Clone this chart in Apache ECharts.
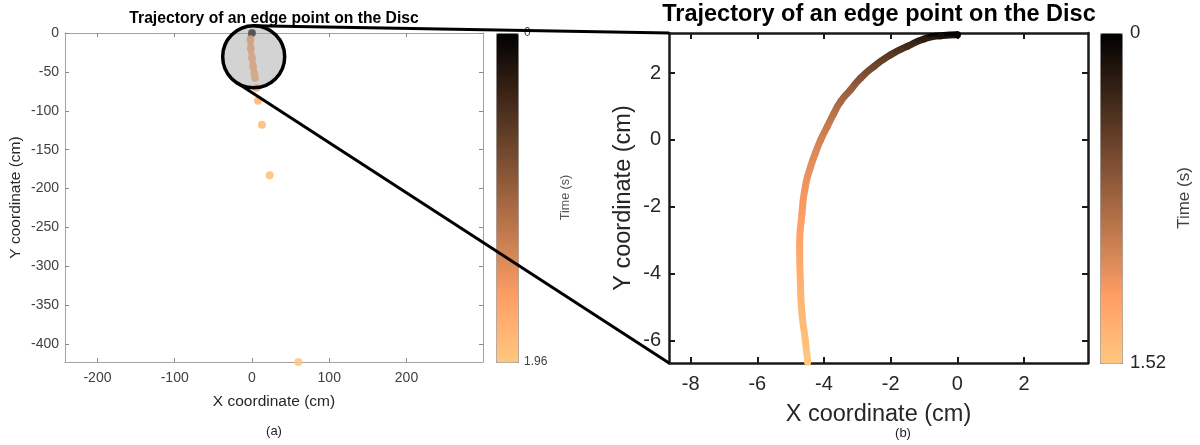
<!DOCTYPE html>
<html>
<head>
<meta charset="utf-8">
<script src="https://cdn.jsdelivr.net/npm/echarts@6/dist/echarts.min.js"></script>
<style>
  html, body { margin: 0; padding: 0; background: #fff; }
  #chart { width: 1200px; height: 445px; }
</style>
</head>
<body>
<div id="chart"></div>
<script>
// (a) full trajectory: slow streak near the top, then the drop
const streakX = [0, -2, -1.5, 0, 1.5, 3, 4];
const streakY = [0, -8, -20, -32, -43, -52, -58];
const streakT = [0, 1.55, 1.6, 1.64, 1.67, 1.7, 1.72];
const dropX = [5.7, 7.8, 12.9, 22.9, 60];
const dropY = [-70.7, -87, -118, -183, -423];
const dropT = [1.74, 1.77, 1.8, 1.86, 1.96];

// (b) zoom on the first 1.52 s
const zoomX = [0, -0.5, -1.0, -1.5, -2.0, -2.5, -2.9, -3.2, -3.5, -3.7, -3.9, -4.1, -4.26, -4.4, -4.56, -4.66, -4.73, -4.71, -4.66, -4.56, -4.49];
const zoomY = [3.15, 3.12, 3.02, 2.8, 2.55, 2.2, 1.85, 1.5, 1.15, 0.8, 0.4, 0, -0.4, -0.8, -1.4, -2.2, -3.2, -4.2, -5.2, -6.0, -6.65];
const zoomT = [0, 0.12, 0.22, 0.33, 0.43, 0.53, 0.63, 0.73, 0.8, 0.88, 0.94, 1.0, 1.05, 1.09, 1.14, 1.2, 1.26, 1.34, 1.41, 1.47, 1.52];

const ticksAX = [-200, -100, 0, 100, 200];
const ticksAY = [0, -50, -100, -150, -200, -250, -300, -350, -400];
const ticksBX = [-8, -6, -4, -2, 0, 2];
const ticksBY = [2, 0, -2, -4, -6];
const rangeAX = [-242, 299], rangeAY = [-423, 0];
const rangeBX = [-8.65, 3.92], rangeBY = [-6.68, 3.2];
const timeMaxA = 1.96, timeMaxB = 1.52;

const FONT = 'Liberation Sans, Arial, sans-serif';

// matlab copper colormap
function copper(tn) {
  tn = Math.max(0, Math.min(1, tn));
  const r = Math.round(255 * Math.min(1, 1.25 * tn));
  const g = Math.round(255 * 0.7812 * tn);
  const b = Math.round(255 * 0.4975 * tn);
  return 'rgb(' + r + ',' + g + ',' + b + ')';
}
const copperStops = [0, 0.2, 0.4, 0.6, 0.8, 1].map(copper);

// colours for evenly spaced y levels (low -> high), looked up from the time read at each point
function yColours(ys, ts, tMax, n) {
  const lo = Math.min(...ys), hi = Math.max(...ys);
  const out = [];
  for (let i = 0; i < n; i++) {
    const y = lo + (hi - lo) * i / (n - 1);
    let t = ts[ts.length - 1];
    if (y >= ys[0]) t = ts[0];
    else {
      for (let k = 0; k < ys.length - 1; k++) {
        if (y <= ys[k] && y >= ys[k + 1]) {
          const f = (ys[k] - y) / (ys[k] - ys[k + 1]);
          t = ts[k] + f * (ts[k + 1] - ts[k]);
          break;
        }
      }
    }
    out.push(copper(t / tMax));
  }
  return out;
}

const pts = (xs, ys, ts) => xs.map((x, i) => ts ? [x, ys[i], ts[i]] : [x, ys[i]]);

const chart = echarts.init(document.getElementById('chart'));

const axA = {
  axisLine: { onZero: false, lineStyle: { color: '#a3a3a3', width: 1 } },
  axisTick: { inside: true, length: 4, lineStyle: { color: '#8a8a8a' } },
  splitLine: { show: false }
};
const axB = {
  axisLine: { onZero: false, lineStyle: { color: '#1a1a1a', width: 2.5 } },
  axisTick: { inside: true, length: 6, lineStyle: { color: '#1a1a1a', width: 2 } },
  splitLine: { show: false }
};
const labA = { color: '#404040', fontSize: 14, fontFamily: FONT };
const labB = { color: '#262626', fontSize: 20, fontFamily: FONT };

function mk(base, extra) {
  return Object.assign({}, base, extra, {
    axisTick: Object.assign({}, base.axisTick, extra.axisTick || {})
  });
}

const option = {
  animation: false,
  textStyle: { fontFamily: FONT },
  title: [
    { text: 'Trajectory of an edge point on the Disc', left: 274, top: 11, padding: 0, textAlign: 'center',
      textStyle: { fontSize: 15.7, fontWeight: 'bold', color: '#000', fontFamily: FONT } },
    { text: 'Trajectory of an edge point on the Disc', left: 879, top: 3, padding: 0, textAlign: 'center',
      textStyle: { fontSize: 23.5, fontWeight: 'bold', color: '#000', fontFamily: FONT } },
    { text: '(a)', left: 274, top: 425, padding: 0, textAlign: 'center',
      textStyle: { fontSize: 13, fontWeight: 'normal', color: '#222', fontFamily: FONT } },
    { text: '(b)', left: 903, top: 427, padding: 0, textAlign: 'center',
      textStyle: { fontSize: 13, fontWeight: 'normal', color: '#222', fontFamily: FONT } }
  ],
  grid: [
    { left: 65, top: 33, width: 418, height: 329 },
    { left: 669, top: 33, width: 419, height: 330 },
    { left: 496, top: 33, width: 22, height: 329 },
    { left: 1100, top: 33, width: 22, height: 330 }
  ],
  xAxis: [
    mk(axA, { gridIndex: 0, type: 'value', position: 'bottom', min: rangeAX[0], max: rangeAX[1],
      axisTick: { customValues: ticksAX },
      axisLabel: Object.assign({ customValues: ticksAX, margin: 9 }, labA),
      name: 'X coordinate (cm)', nameLocation: 'middle', nameGap: 32,
      nameTextStyle: { color: '#262626', fontSize: 15.5, fontFamily: FONT } }),
    mk(axA, { gridIndex: 0, type: 'value', position: 'top', min: rangeAX[0], max: rangeAX[1],
      axisTick: { customValues: ticksAX }, axisLabel: { show: false } }),
    mk(axB, { gridIndex: 1, type: 'value', position: 'bottom', min: rangeBX[0], max: rangeBX[1],
      axisTick: { customValues: ticksBX },
      axisLabel: Object.assign({ customValues: ticksBX, margin: 11 }, labB),
      name: 'X coordinate (cm)', nameLocation: 'middle', nameGap: 40,
      nameTextStyle: { color: '#262626', fontSize: 23.5, fontFamily: FONT } }),
    mk(axB, { gridIndex: 1, type: 'value', position: 'top', min: rangeBX[0], max: rangeBX[1],
      axisTick: { customValues: ticksBX }, axisLabel: { show: false } }),
    { gridIndex: 2, type: 'value', show: false, min: 0, max: 1 },
    { gridIndex: 3, type: 'value', show: false, min: 0, max: 1 }
  ],
  yAxis: [
    mk(axA, { gridIndex: 0, type: 'value', position: 'left', min: rangeAY[0], max: rangeAY[1],
      axisTick: { customValues: ticksAY },
      axisLabel: Object.assign({ customValues: ticksAY, margin: 6 }, labA),
      name: 'Y coordinate (cm)', nameLocation: 'middle', nameGap: 41,
      nameTextStyle: { color: '#262626', fontSize: 15.5, fontFamily: FONT } }),
    mk(axA, { gridIndex: 0, type: 'value', position: 'right', min: rangeAY[0], max: rangeAY[1],
      axisTick: { customValues: ticksAY }, axisLabel: { show: false } }),
    mk(axB, { gridIndex: 1, type: 'value', position: 'left', min: rangeBY[0], max: rangeBY[1],
      axisTick: { customValues: ticksBY },
      axisLabel: Object.assign({ customValues: ticksBY, margin: 8 }, labB),
      name: 'Y coordinate (cm)', nameLocation: 'middle', nameGap: 33,
      nameTextStyle: { color: '#262626', fontSize: 23.5, fontFamily: FONT } }),
    mk(axB, { gridIndex: 1, type: 'value', position: 'right', min: rangeBY[0], max: rangeBY[1],
      axisTick: { customValues: ticksBY }, axisLabel: { show: false } }),
    { gridIndex: 2, type: 'value', position: 'right', min: 0, max: timeMaxA, inverse: true,
      axisLine: { show: false }, axisTick: { show: false }, splitLine: { show: false },
      axisLabel: { customValues: [0, timeMaxA], color: '#404040', fontSize: 12, margin: 6,
        formatter: v => v === 0 ? '0' : v.toFixed(2) },
      name: 'Time (s)', nameLocation: 'middle', nameGap: 41,
      nameTextStyle: { color: '#555', fontSize: 12.5, fontFamily: FONT } },
    { gridIndex: 3, type: 'value', position: 'right', min: 0, max: timeMaxB, inverse: true,
      axisLine: { show: false }, axisTick: { show: false }, splitLine: { show: false },
      axisLabel: { customValues: [0, timeMaxB], color: '#262626', fontSize: 18.5, margin: 8,
        formatter: v => v === 0 ? '0' : v.toFixed(2) },
      name: 'Time (s)', nameLocation: 'middle', nameGap: 54,
      nameTextStyle: { color: '#404040', fontSize: 17, fontFamily: FONT } }
  ],
  visualMap: [
    { type: 'continuous', seriesIndex: 1, dimension: 2, min: 0, max: timeMaxA,
      left: 496, top: 33, itemWidth: 22, itemHeight: 329, padding: 0, inverse: true,
      calculable: false, text: null, borderColor: '#999', borderWidth: 1,
      inRange: { color: copperStops } },
    { type: 'continuous', seriesIndex: 3, dimension: 2, min: 0, max: timeMaxB,
      left: 1100, top: 33, itemWidth: 22, itemHeight: 330, padding: 0, inverse: true,
      calculable: false, text: null, borderColor: '#999', borderWidth: 1,
      inRange: { color: copperStops } },
    { type: 'continuous', show: false, seriesIndex: 0, dimension: 1,
      min: Math.min(...streakY), max: Math.max(...streakY),
      inRange: { color: yColours(streakY, streakT, timeMaxA, 60) } },
    { type: 'continuous', show: false, seriesIndex: 2, dimension: 1,
      min: Math.min(...zoomY), max: Math.max(...zoomY),
      inRange: { color: yColours(zoomY, zoomT, timeMaxB, 100) } }
  ],
  series: [
    { type: 'line', xAxisIndex: 0, yAxisIndex: 0, data: pts(streakX, streakY), smooth: true,
      symbol: 'none', lineStyle: { width: 6, cap: 'round' }, z: 2 },
    { type: 'scatter', xAxisIndex: 0, yAxisIndex: 0, clip: false, symbolSize: 8,
      itemStyle: { opacity: 0.85 },
      data: pts(streakX, streakY, streakT).concat(pts(dropX, dropY, dropT)), z: 3 },
    { type: 'line', xAxisIndex: 2, yAxisIndex: 2, data: pts(zoomX, zoomY), smooth: 0.6,
      symbol: 'none', lineStyle: { width: 7, cap: 'round', join: 'round' }, z: 2 },
    { type: 'scatter', xAxisIndex: 2, yAxisIndex: 2, clip: false, symbolSize: 7,
      data: pts(zoomX, zoomY, zoomT), z: 3 }
  ]
};
chart.setOption(option);

// magnifier circle and the two connector lines
function tangent(c, r, p, side) {
  const dx = p[0] - c[0], dy = p[1] - c[1];
  const a = Math.atan2(dy, dx) + side * Math.acos(r / Math.hypot(dx, dy));
  return [c[0] + r * Math.cos(a), c[1] + r * Math.sin(a)];
}
const c = chart.convertToPixel({ xAxisIndex: 0, yAxisIndex: 0 }, [2.2, -30.5]);
const r = 31;
const pTop = chart.convertToPixel({ xAxisIndex: 2, yAxisIndex: 2 }, [rangeBX[0], rangeBY[1]]);
const pBot = chart.convertToPixel({ xAxisIndex: 2, yAxisIndex: 2 }, [rangeBX[0], rangeBY[0]]);
const t1 = tangent(c, r, pTop, -1);
const t2 = tangent(c, r, pBot, 1);
chart.setOption({
  graphic: [
    { type: 'circle', shape: { cx: c[0], cy: c[1], r: r }, z: 100,
      style: { fill: 'rgba(168,168,168,0.5)', stroke: '#000', lineWidth: 3.5 } },
    { type: 'line', shape: { x1: t1[0], y1: t1[1], x2: pTop[0], y2: pTop[1] }, z: 101,
      style: { stroke: '#000', lineWidth: 3 } },
    { type: 'line', shape: { x1: t2[0], y1: t2[1], x2: pBot[0], y2: pBot[1] }, z: 101,
      style: { stroke: '#000', lineWidth: 3 } }
  ]
});
</script>
</body>
</html>
